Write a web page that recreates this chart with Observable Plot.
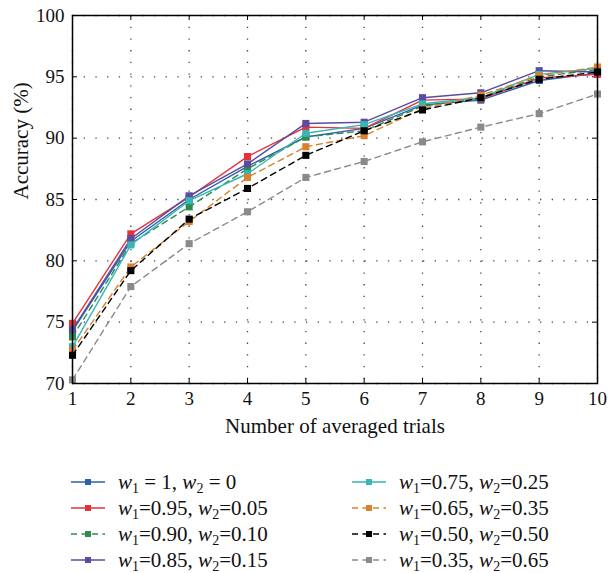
<!DOCTYPE html>
<html>
<head>
<meta charset="utf-8">
<script src="https://cdn.jsdelivr.net/npm/d3@7"></script>
<script src="https://cdn.jsdelivr.net/npm/@observablehq/plot@0.6"></script>
<style>
  body { margin: 0; background: #fff; }
  #wrap { position: relative; width: 608px; height: 573px; font-family: "Liberation Serif", "DejaVu Serif", serif; }
  .leg { position: absolute; display: flex; align-items: center; font-size: 21px; color: #111; white-space: nowrap; line-height: 24px; }
  .leg svg { margin-right: 12px; }
  .leg i { font-style: italic; }
  .leg sub { font-size: 14px; vertical-align: -4px; line-height: 0; }
</style>
</head>
<body>
<div id="wrap"></div>
<script>
const trials = [1, 2, 3, 4, 5, 6, 7, 8, 9, 10];
const seriesNames = ["w1=1,w2=0", "w1=0.95,w2=0.05", "w1=0.90,w2=0.10", "w1=0.85,w2=0.15",
                     "w1=0.75,w2=0.25", "w1=0.65,w2=0.35", "w1=0.50,w2=0.50", "w1=0.35,w2=0.65"];
const w1Labels = ["1", "0.95", "0.90", "0.85", "0.75", "0.65", "0.50", "0.35"];
const w2Labels = ["0", "0.05", "0.10", "0.15", "0.25", "0.35", "0.50", "0.65"];
const accW100 = [74.3, 81.6, 85.0, 87.7, 90.1, 90.8, 92.7, 93.1, 94.7, 95.3];
const accW95  = [74.9, 82.2, 85.2, 88.5, 90.9, 90.8, 93.1, 93.2, 94.9, 95.2];
const accW90  = [73.8, 81.4, 84.4, 87.5, 90.1, 90.6, 92.6, 93.3, 95.0, 95.6];
const accW85  = [74.4, 81.8, 85.3, 87.9, 91.2, 91.3, 93.3, 93.7, 95.5, 95.4];
const accW75  = [73.0, 81.3, 84.9, 87.1, 90.4, 91.1, 92.8, 93.3, 95.2, 95.7];
const accW65  = [72.7, 79.5, 83.2, 86.8, 89.3, 90.2, 92.4, 93.5, 95.1, 95.8];
const accW50  = [72.3, 79.2, 83.4, 85.9, 88.6, 90.6, 92.3, 93.3, 94.8, 95.4];
const accW35  = [70.3, 77.9, 81.4, 84.0, 86.8, 88.1, 89.7, 90.9, 92.0, 93.6];
const yTicks = [70, 75, 80, 85, 90, 95, 100];
const xTitle = "Number of averaged trials";
const yTitle = "Accuracy (%)";

const allValues = [accW100, accW95, accW90, accW85, accW75, accW65, accW50, accW35];
const colors = ["#2c5fab", "#e5323a", "#2e8a4f", "#5a4c9f", "#36b6b4", "#d9812f", "#000000", "#8a8a8a"];
const dashed = [false, false, true, false, false, true, true, true];

const data = [];
allValues.forEach((vals, s) => vals.forEach((v, i) => data.push({series: seriesNames[s], trial: trials[i], acc: v})));

const W = 608, H = 450, mT = 15, mB = 67, mL = 72, mR = 11;
const innerH = H - mT - mB, innerW = W - mL - mR;

const marks = [
  Plot.gridX(trials, {stroke: "#444", strokeOpacity: 1, strokeWidth: 1.3, strokeDasharray: "1.3,10.4"}),
  Plot.gridY(yTicks, {stroke: "#444", strokeOpacity: 1, strokeWidth: 1.3, strokeDasharray: "1.3,10.4"}),
  Plot.ruleX(trials, {insetTop: innerH - 5, stroke: "#000", strokeWidth: 1}),
  Plot.ruleX(trials, {insetBottom: innerH - 5, stroke: "#000", strokeWidth: 1}),
  Plot.ruleY(yTicks, {insetRight: innerW - 5, stroke: "#000", strokeWidth: 1}),
  Plot.ruleY(yTicks, {insetLeft: innerW - 5, stroke: "#000", strokeWidth: 1}),
];
seriesNames.forEach((name, s) => {
  const d = data.filter(r => r.series === name);
  marks.push(Plot.line(d, {x: "trial", y: "acc", stroke: colors[s], strokeWidth: 1.4,
    strokeDasharray: dashed[s] ? "6,4.5" : null}));
  marks.push(Plot.dot(d, {x: "trial", y: "acc", symbol: "square", r: 4, fill: colors[s], stroke: "none"}));
});
marks.push(Plot.frame({stroke: "#000", strokeWidth: 1.5}));
marks.push(Plot.axisX(trials, {tickSize: 0, tickPadding: 8, fontSize: 19, label: null, tickFormat: d => String(d)}));
marks.push(Plot.axisY(yTicks, {tickSize: 0, tickPadding: 8, fontSize: 19, label: null}));
marks.push(Plot.text([xTitle], {frameAnchor: "bottom", dy: 49, fontSize: 21, fill: "#111"}));
marks.push(Plot.text([yTitle], {frameAnchor: "left", dx: -51, rotate: -90, fontSize: 21, fill: "#111"}));

const chart = Plot.plot({
  width: W, height: H,
  marginTop: mT, marginBottom: mB, marginLeft: mL, marginRight: mR,
  style: {fontFamily: "'Liberation Serif', 'DejaVu Serif', serif", fontSize: "19px", color: "#111", background: "#fff", overflow: "visible"},
  x: {domain: [1, 10]},
  y: {domain: [70, 100]},
  marks
});
const wrap = document.getElementById("wrap");
wrap.appendChild(chart);

// Legend
const rowsY = [32, 58, 84, 110];
seriesNames.forEach((name, s) => {
  const col = s < 4 ? 0 : 1;
  const row = s % 4;
  const div = document.createElement("div");
  div.className = "leg";
  div.style.left = (col === 0 ? 70 : 351) + "px";
  div.style.top = (H + rowsY[row] - 12) + "px";
  div.style.height = "24px";
  const dash = dashed[s] ? 'stroke-dasharray="6,4.5"' : "";
  const eq = s === 0 ? " = " : "=";
  div.innerHTML = `<svg width="36" height="10"><line x1="1" y1="5" x2="35" y2="5" stroke="${colors[s]}" stroke-width="1.6" ${dash}/><rect x="15" y="2" width="6" height="6" fill="${colors[s]}"/></svg>` +
    `<span><i>w</i><sub>1</sub>${eq}${w1Labels[s]}, <i>w</i><sub>2</sub>${eq}${w2Labels[s]}</span>`;
  wrap.appendChild(div);
});
</script>
</body>
</html>
